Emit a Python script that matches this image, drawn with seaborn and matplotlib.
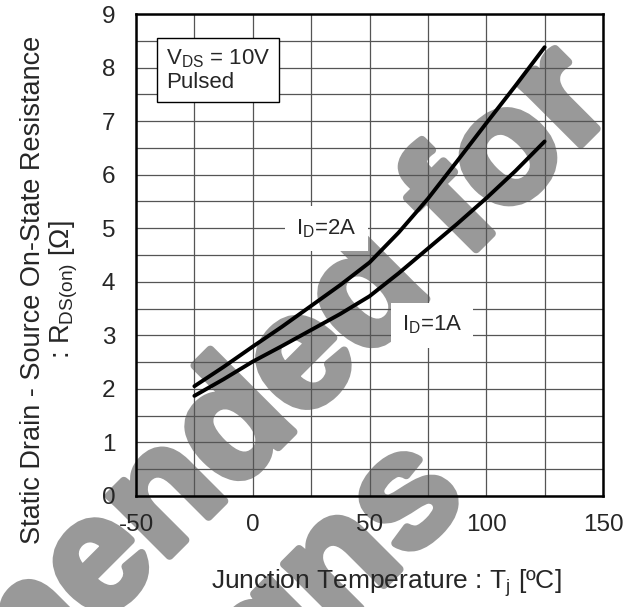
import numpy as np
import pandas as pd
import matplotlib
matplotlib.use("Agg")
import matplotlib.pyplot as plt
import matplotlib.patheffects as pe
from matplotlib.ticker import MultipleLocator
import seaborn as sns

# Junction temperature (degC) and on-state resistance (ohm) for each drain current
temp_c = [-25, -12.5, 0, 12.5, 25, 37.5, 50, 62.5, 75, 87.5, 100, 112.5, 125]
rds_2a = [2.05, 2.41, 2.79, 3.16, 3.55, 3.94, 4.36, 4.92, 5.55, 6.25, 6.96, 7.66, 8.38]
rds_1a = [1.87, 2.18, 2.51, 2.80, 3.10, 3.40, 3.73, 4.16, 4.62, 5.08, 5.56, 6.07, 6.62]

x_ticks = [-50, 0, 50, 100, 150]
y_ticks = list(range(0, 10))

df = pd.DataFrame({
    "T": temp_c * 2,
    "R": rds_2a + rds_1a,
    "Id": ["2A"] * len(temp_c) + ["1A"] * len(temp_c),
})

sns.set_theme(style="white")
plt.rcParams["font.family"] = ["Liberation Sans", "DejaVu Sans"]
plt.rcParams["mathtext.fontset"] = "custom"
plt.rcParams["mathtext.rm"] = "Liberation Sans"
plt.rcParams["mathtext.it"] = "Liberation Sans:italic"
plt.rcParams["mathtext.bf"] = "Liberation Sans:bold"

fig = plt.figure(figsize=(6.33, 6.07), dpi=100)
ax = fig.add_axes([136 / 633, 1 - 496 / 607, 467 / 633, 482 / 607])

# Watermark behind the plot
wm_color = "#999999"
wm = dict(rotation=45, rotation_mode="anchor", ha="right", va="baseline",
          fontsize=116, fontweight="bold", color=wm_color, zorder=-1,
          path_effects=[pe.withStroke(linewidth=6, foreground=wm_color)])
fig.text(0.975, 0.822, "Not Recommended for", **wm)
fig.text(0.742, 0.178, "New Designs", **wm)
ax.patch.set_alpha(0)

sns.lineplot(data=df, x="T", y="R", hue="Id", palette=["black", "black"],
             linewidth=2.8, legend=False, ax=ax, zorder=5)

ax.set_xlim(-50, 150)
ax.set_ylim(0, 9)
ax.xaxis.set_minor_locator(MultipleLocator(25))
ax.yaxis.set_minor_locator(MultipleLocator(0.5))
ax.set_xticks(x_ticks)
ax.set_yticks(y_ticks)
ax.set_xticklabels([str(v) for v in x_ticks])
ax.set_yticklabels([str(v) for v in y_ticks])

ax.grid(True, which="both", color="#555555", linewidth=0.9, zorder=1)
ax.set_axisbelow(False)
ax.tick_params(axis="both", which="major", direction="in", length=6,
               width=1.0, color="black", labelsize=17.5)
ax.tick_params(axis="both", which="minor", direction="in", length=0)
ax.tick_params(axis="x", pad=13)
ax.tick_params(axis="y", pad=15)
for s in ax.spines.values():
    s.set_visible(True)
    s.set_color("black")
    s.set_linewidth(1.8)
    s.set_zorder(6)

ax.set_xlabel("")
ax.set_ylabel("")
fig.text(386 / 633, 1 - 583 / 607, "Junction Temperature : T$_\\mathrm{j}$ [ºC]",
         ha="center", va="center", fontsize=19)
fig.text(50 / 633, 1 - 290 / 607,
         "Static Drain - Source On-State Resistance\n: R$_\\mathrm{DS(on)}$ [Ω]",
         ha="center", va="center", rotation=90, fontsize=19.5, linespacing=1.1)

ax.text(-37.2, 7.95, "V$_\\mathrm{DS}$ = 10V\nPulsed", ha="left", va="center",
        fontsize=16, linespacing=1.18, zorder=7,
        bbox=dict(boxstyle="square,pad=0.4", facecolor="white",
                  edgecolor="black", linewidth=1.0))

lbl_box = dict(boxstyle="square,pad=0.5", facecolor="white", edgecolor="none")
ax.text(31.5, 5.0, "I$_\\mathrm{D}$=2A", ha="center", va="center",
        fontsize=16, zorder=4, bbox=lbl_box)
ax.text(76.8, 3.19, "I$_\\mathrm{D}$=1A", ha="center", va="center",
        fontsize=16, zorder=4, bbox=lbl_box)

fig.savefig("out.png", dpi=100)
